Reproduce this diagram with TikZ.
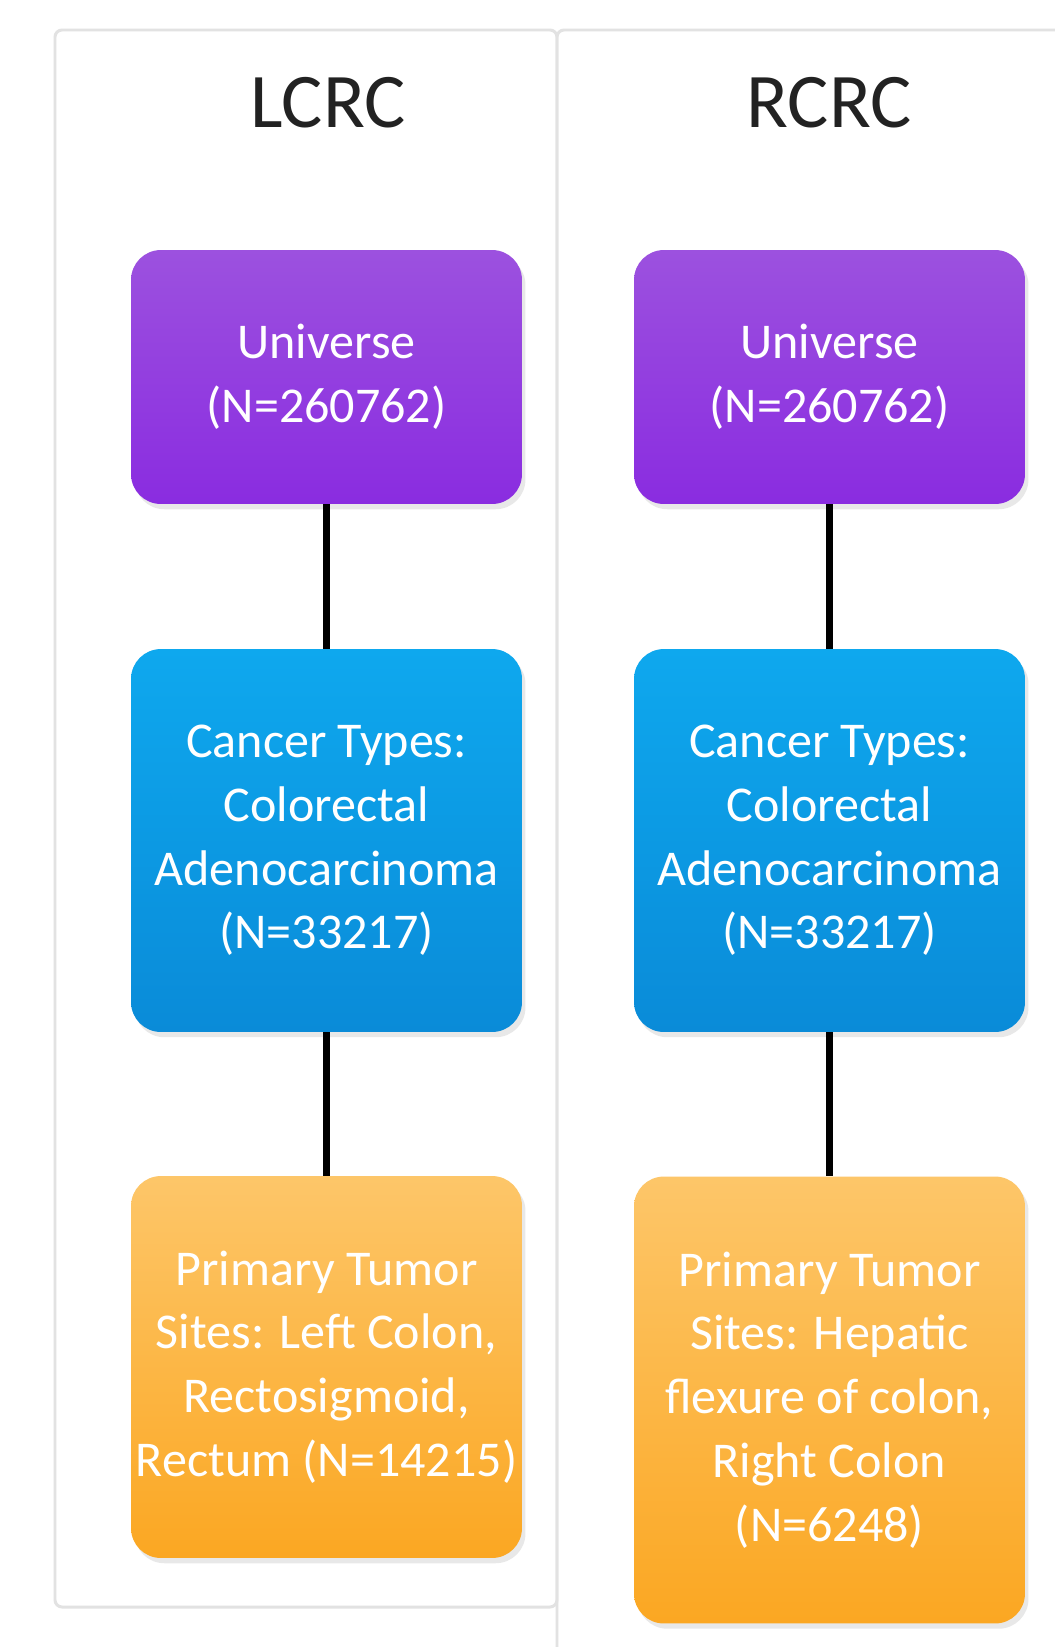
\documentclass[tikz,border=0pt]{standalone}
\usepackage{fontspec}
\setmainfont{Carlito}
\usetikzlibrary{positioning, shadows}
\definecolor{panelgray}{HTML}{E2E2E2}
\definecolor{titlegray}{HTML}{222222}
\definecolor{purpTop}{HTML}{9C51DF}
\definecolor{purpBot}{HTML}{8A2CE0}
\definecolor{blueTop}{HTML}{0EA8EE}
\definecolor{blueBot}{HTML}{0A8BD8}
\definecolor{orngTop}{HTML}{FDC669}
\definecolor{orngBot}{HTML}{FBA722}

\begin{document}
\begin{tikzpicture}[x=0.02cm, y=-0.02cm,
			panel/.style={draw=panelgray, line width=1.7pt, rounded corners=4pt},
			title/.style={font=\fontsize{44}{50}\selectfont, text=titlegray},
			box/.style={rounded corners=17pt, minimum width=7.82cm, inner xsep=2pt,
				align=center, text=white, font=\fontsize{28.5}{36.3}\selectfont,
				drop shadow={opacity=0.18, shadow xshift=2pt, shadow yshift=-3pt}},
			univ/.style={box, top color=purpTop, bottom color=purpBot, minimum height=5.08cm},
			canc/.style={box, top color=blueTop, bottom color=blueBot, minimum height=7.66cm},
			site/.style={box, top color=orngTop, bottom color=orngBot},
			link/.style={line width=4.3pt, black}]
			
			\clip (0,0) rectangle (1055,1647);
			\fill[white] (0,0) rectangle (1055,1647);
			
			% Pannelli
			\draw[panel] (55,30) rectangle (557,1607);
			\draw[panel] (557,30) rectangle (1100,1700);
			
			% Titoli
			\node[title] (lcrc) at (328,103) {LCRC};
			\node[title] (rcrc) at (829,103) {RCRC};
			
			% Colonna sinistra
			\node[univ] (luniv) at (326.5,377) {Universe\\(N=260762)};
			\node[canc] (lcanc) at (326.5,840.5) {Cancer Types:\\Colorectal\\Adenocarcinoma\\(N=33217)};
			\node[site, minimum height=7.64cm] (lsite) at (326.5,1367) {Primary Tumor\\Sites: Left Colon,\\Rectosigmoid,\\Rectum (N=14215)};
			
			% Colonna destra
			\node[univ] (runiv) at (829.5,377) {Universe\\(N=260762)};
			\node[canc] (rcanc) at (829.5,840.5) {Cancer Types:\\Colorectal\\Adenocarcinoma\\(N=33217)};
			\node[site, minimum height=8.94cm] (rsite) at (829.5,1400) {Primary Tumor\\Sites: Hepatic\\flexure of colon,\\Right Colon\\(N=6248)};
			
			% Collegamenti
			\draw[link] (luniv) -- (lcanc);
			\draw[link] (lcanc) -- (lsite);
			\draw[link] (runiv) -- (rcanc);
			\draw[link] (rcanc) -- (rsite);
			
		\end{tikzpicture}
\end{document}
